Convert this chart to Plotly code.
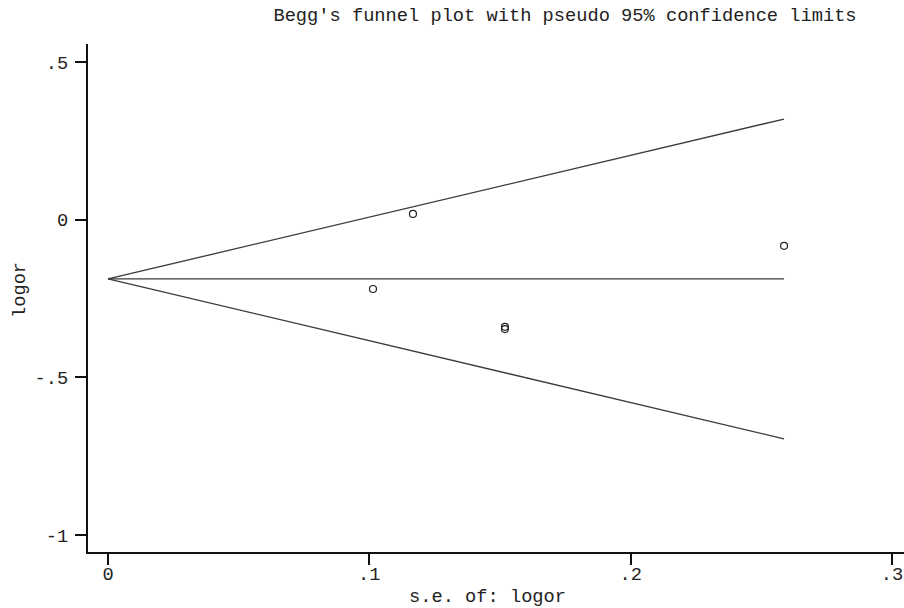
import plotly.graph_objects as go

# data
se = [0.1014, 0.1167, 0.1519, 0.1519, 0.2587]
logor = [-0.220, 0.018, -0.340, -0.347, -0.083]
pooled = -0.188
se_max = 0.2587
z = 1.96

x_ticks = [0, 0.1, 0.2, 0.3]
x_tick_text = ["0", ".1", ".2", ".3"]
y_ticks = [0.5, 0, -0.5, -1]
y_tick_text = [".5", "0", "-.5", "-1"]

FONT = "Liberation Mono"
FS = 18.7
LC = "#3a3a3a"
TC = "#222"

L, T, B = 88, 44, 56
PW, PH = 904 - L, 608 - T - B

fig = go.Figure()
# funnel lines
fig.add_trace(go.Scatter(x=[0, se_max], y=[pooled, pooled + z * se_max], mode="lines",
                         line=dict(color=LC, width=1.3), showlegend=False, hoverinfo="skip"))
fig.add_trace(go.Scatter(x=[0, se_max], y=[pooled, pooled - z * se_max], mode="lines",
                         line=dict(color=LC, width=1.3), showlegend=False, hoverinfo="skip"))
fig.add_trace(go.Scatter(x=[0, se_max], y=[pooled, pooled], mode="lines",
                         line=dict(color=LC, width=1.3), showlegend=False, hoverinfo="skip"))
# studies
fig.add_trace(go.Scatter(x=se, y=logor, mode="markers",
                         marker=dict(symbol="circle-open", size=7, color="#222",
                                     line=dict(width=1.2, color="#222")),
                         showlegend=False))

fig.update_layout(
    width=904, height=608,
    margin=dict(l=L, r=0, t=T, b=B, autoexpand=False),
    paper_bgcolor="white", plot_bgcolor="white",
    font=dict(family=FONT, size=FS, color=TC),
    title=dict(text="Begg's funnel plot with pseudo 95% confidence limits",
               x=565 / 904, xref="container", xanchor="center",
               y=1 - 14 / 608, yref="container", yanchor="middle",
               font=dict(family=FONT, size=FS, color=TC)),
    xaxis=dict(range=[-0.00765, 0.3046], tickvals=x_ticks, ticktext=x_tick_text,
               showgrid=False, zeroline=False, showline=True, linecolor="#111", linewidth=2,
               ticks="outside", ticklen=11, tickwidth=1.5, tickcolor="#111",
               ticklabeloverflow="allow", ticklabelstandoff=-7,
               tickfont=dict(family=FONT, size=FS, color=TC)),
    yaxis=dict(range=[-1.054, 0.557], tickvals=y_ticks, ticktext=y_tick_text,
               showgrid=False, zeroline=False, showline=True, linecolor="#111", linewidth=2,
               ticks="outside", ticklen=11, tickwidth=1.5, tickcolor="#111",
               ticklabelstandoff=3,
               tickfont=dict(family=FONT, size=FS, color=TC)),
    annotations=[
        dict(text="s.e. of: logor", xref="paper", yref="paper",
             x=(487 - L) / PW, y=-(597 - (608 - B)) / PH, xanchor="center", yanchor="middle",
             showarrow=False, font=dict(family=FONT, size=FS, color=TC)),
        dict(text="logor", xref="paper", yref="paper",
             x=-(L - 20) / PW, y=((608 - B) - 290) / PH, xanchor="center", yanchor="middle",
             textangle=-90, showarrow=False, font=dict(family=FONT, size=FS, color=TC)),
    ],
)

fig.write_html("out.html")
